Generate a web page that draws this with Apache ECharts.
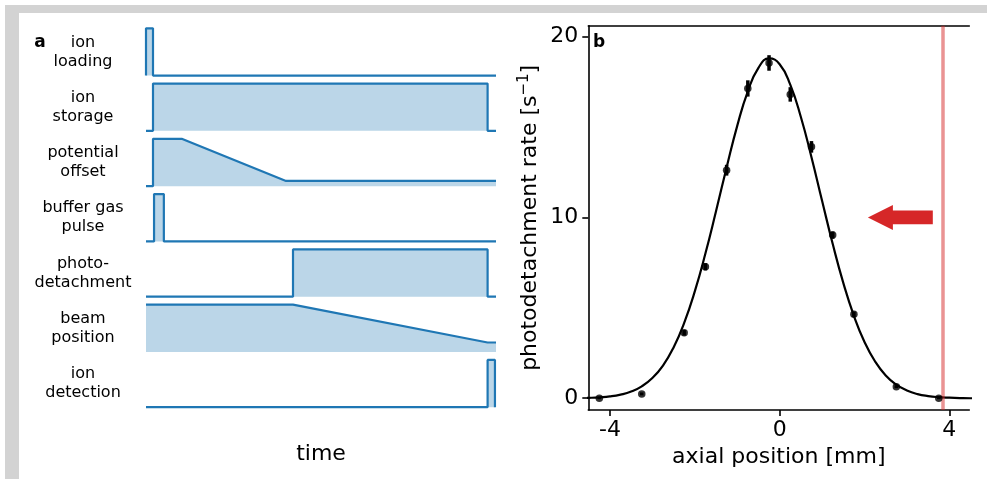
<!DOCTYPE html>
<html>
<head>
<meta charset="utf-8">
<script src="https://cdn.jsdelivr.net/npm/echarts@6/dist/echarts.min.js"></script>
<style>
  html, body { margin: 0; padding: 0; background: #fff; }
  #chart { width: 987px; height: 479px; }
</style>
</head>
<body>
<div id="chart"></div>
<script>
// ---- panel a: timing sequence (time in arbitrary units 0..100, level 0..1) ----
const rowLabels = ['ion\nloading', 'ion\nstorage', 'potential\noffset', 'buffer gas\npulse',
                   'photo-\ndetachment', 'beam\nposition', 'ion\ndetection'];
const ionLoading      = [[0, 0], [0, 1], [2, 1], [2, 0], [100, 0]];
const ionStorage      = [[0, 0], [2, 0], [2, 1], [97.6, 1], [97.6, 0], [100, 0]];
const potentialOffset = [[0, 0], [2, 0], [2, 1], [10.2, 1], [40, 0.11], [100, 0.11]];
const bufferGasPulse  = [[0, 0], [2.3, 0], [2.3, 1], [5.1, 1], [5.1, 0], [100, 0]];
const photoDetachment = [[0, 0], [42, 0], [42, 1], [97.6, 1], [97.6, 0], [100, 0]];
const beamPosition    = [[0, 1], [42, 1], [97.6, 0.2], [100, 0.2]];
const ionDetection    = [[0, 0], [97.6, 0], [97.6, 1], [99.7, 1], [99.7, 0]];
const sequenceRows = [ionLoading, ionStorage, potentialOffset, bufferGasPulse,
                      photoDetachment, beamPosition, ionDetection];

// ---- panel b: photodetachment rate vs axial position ----
const axialPos  = [-4.25, -3.25, -2.25, -1.75, -1.25, -0.75, -0.25, 0.25, 0.75, 1.25, 1.75, 2.75, 3.75];
const rate      = [0.0, 0.24, 3.62, 7.27, 12.61, 17.13, 18.54, 16.8, 13.9, 9.02, 4.64, 0.64, 0.0];
const rateErr   = [0.05, 0.08, 0.15, 0.2, 0.3, 0.45, 0.43, 0.4, 0.32, 0.2, 0.15, 0.08, 0.05];
const fitPos    = [-4.75, -4.5, -4.25, -4, -3.75, -3.5, -3.25, -3, -2.75, -2.5, -2.25, -2, -1.75, -1.5,
                   -1.25, -1, -0.75, -0.5, -0.25, 0, 0.25, 0.5, 0.75, 1, 1.25, 1.5, 1.75, 2, 2.25,
                   2.5, 2.75, 3, 3.25, 3.5, 3.75, 4, 4.25, 4.5, 4.75];
const fitRate   = [0.0, 0.02, 0.05, 0.10, 0.20, 0.37, 0.66, 1.12, 1.81, 2.81, 4.17, 5.91, 8.0, 10.34,
                   12.76, 15.06, 16.97, 18.27, 18.79, 18.47, 17.34, 15.55, 13.33, 10.92, 8.54, 6.38,
                   4.56, 3.11, 2.03, 1.26, 0.75, 0.43, 0.23, 0.12, 0.06, 0.03, 0.01, 0.0, 0.0];
const markerPos = 3.85;                 // red vertical marker [mm]
const arrowSpan = [3.61, 2.08, 10];     // arrow tail x, tip x, height

const xTicks = [-4, 0, 4];
const yTicks = [0, 10, 20];

const FONT = 'DejaVu Sans';
const BLUE = '#1f77b4';

const grids = [], xAxes = [], yAxes = [], series = [], graphics = [];

// timing rows
const rowTop0 = 28.3, rowStep = 55.27, rowH = 47.3, rowLeft = 146, rowW = 350;
sequenceRows.forEach((row, i) => {
  const top = rowTop0 + rowStep * i;
  grids.push({ left: rowLeft, top: top, width: rowW, height: rowH });
  xAxes.push({ type: 'value', gridIndex: i, min: 0, max: 100, show: false });
  yAxes.push({ type: 'value', gridIndex: i, min: 0, max: 1, show: false });
  series.push({
    type: 'line', xAxisIndex: i, yAxisIndex: i, data: row,
    showSymbol: false, clip: false, animation: false,
    lineStyle: { color: BLUE, width: 2.2 },
    areaStyle: { color: BLUE, opacity: 0.3, origin: 'start' }
  });
  graphics.push({
    type: 'text', x: 83, y: top + rowH / 2,
    style: { text: rowLabels[i], font: '16px "' + FONT + '"', fill: '#000',
             align: 'center', verticalAlign: 'middle', lineHeight: 19 }
  });
});

// rate panel
const gi = sequenceRows.length;
grids.push({ left: 588.3, top: 25.7, width: 381, height: 384.3 });
xAxes.push({
  type: 'value', gridIndex: gi, min: -4.51, max: 4.47, position: 'bottom',
  name: 'axial position [mm]', nameLocation: 'middle', nameGap: 33,
  nameTextStyle: { fontFamily: FONT, fontSize: 22, color: '#000' },
  axisLine: { onZero: false, lineStyle: { color: '#000', width: 1.6 } },
  axisTick: { customValues: xTicks, length: 6, lineStyle: { color: '#000', width: 1.6 } },
  axisLabel: { customValues: xTicks, margin: 9, fontFamily: FONT, fontSize: 22, color: '#000' },
  splitLine: { show: false }
});
xAxes.push({
  type: 'value', gridIndex: gi, min: -4.51, max: 4.47, position: 'top',
  axisLine: { onZero: false, lineStyle: { color: '#000', width: 1.6 } },
  axisTick: { show: false }, axisLabel: { show: false }, splitLine: { show: false }
});
yAxes.push({
  type: 'value', gridIndex: gi, min: -0.65, max: 20.6,
  name: '{n|photodetachment rate [s}{s|\u22121}{n|]}', nameLocation: 'middle', nameGap: 44,
  nameTextStyle: {
    fontFamily: FONT, fontSize: 22, color: '#000',
    rich: {
      n: { fontFamily: FONT, fontSize: 22, color: '#000', lineHeight: 28 },
      s: { fontFamily: FONT, fontSize: 15, color: '#000', lineHeight: 15, verticalAlign: 'top' }
    }
  },
  axisLine: { onZero: false, lineStyle: { color: '#000', width: 1.6 } },
  axisTick: { customValues: yTicks, length: 6, lineStyle: { color: '#000', width: 1.6 } },
  axisLabel: { customValues: yTicks, margin: 10, fontFamily: FONT, fontSize: 22, color: '#000' },
  splitLine: { show: false }
});

series.push({
  type: 'line', xAxisIndex: gi, yAxisIndex: gi, animation: false,
  data: fitPos.map((x, k) => [x, fitRate[k]]),
  smooth: true, showSymbol: false, clip: true,
  lineStyle: { color: '#000', width: 2.2 },
  markLine: {
    silent: true, symbol: 'none', animation: false,
    label: { show: false },
    lineStyle: { color: 'rgba(214,39,40,0.5)', width: 3.5, type: 'solid' },
    data: [{ xAxis: markerPos }]
  },
  z: 3
});
series.push({
  type: 'custom', xAxisIndex: gi, yAxisIndex: gi, animation: false,
  data: axialPos.map((x, k) => [x, rate[k], rateErr[k]]),
  renderItem: (params, api) => {
    const x = api.value(0), y = api.value(1), e = api.value(2);
    const p1 = api.coord([x, y - e]), p2 = api.coord([x, y + e]);
    return { type: 'line', shape: { x1: p1[0], y1: p1[1], x2: p2[0], y2: p2[1] },
             style: { stroke: '#000', lineWidth: 3.5 } };
  },
  z: 4
});
series.push({
  type: 'scatter', xAxisIndex: gi, yAxisIndex: gi, animation: false,
  data: axialPos.map((x, k) => [x, rate[k]]),
  symbolSize: 7.5, itemStyle: { color: '#000' }, z: 5
});
series.push({
  type: 'custom', xAxisIndex: gi, yAxisIndex: gi, animation: false,
  data: [arrowSpan],
  renderItem: (params, api) => {
    const tail = api.coord([api.value(0), api.value(2)]);
    const tip = api.coord([api.value(1), api.value(2)]);
    const headLen = 25, headHalf = 12.5, shaftHalf = 6.8;
    const cy = tip[1], hb = tip[0] + headLen;
    return {
      type: 'polygon',
      shape: { points: [[tip[0], cy], [hb, cy - headHalf], [hb, cy - shaftHalf], [tail[0], cy - shaftHalf],
                        [tail[0], cy + shaftHalf], [hb, cy + shaftHalf], [hb, cy + headHalf]] },
      style: { fill: '#d62728' }
    };
  },
  z: 6
});

// frame bands and panel letters
graphics.push({ type: 'rect', shape: { x: 5, y: 5, width: 982, height: 8 }, style: { fill: '#d3d3d3' }, z: -10 });
graphics.push({ type: 'rect', shape: { x: 5, y: 5, width: 14, height: 474 }, style: { fill: '#d3d3d3' }, z: -10 });
graphics.push({ type: 'text', x: 40, y: 43,
  style: { text: 'a', font: 'bold 17px "' + FONT + '"', fill: '#000', align: 'center', verticalAlign: 'middle' } });
graphics.push({ type: 'text', x: 599, y: 43,
  style: { text: 'b', font: 'bold 17px "' + FONT + '"', fill: '#000', align: 'center', verticalAlign: 'middle' } });
graphics.push({ type: 'text', x: 321, y: 454,
  style: { text: 'time', font: '22px "' + FONT + '"', fill: '#000', align: 'center', verticalAlign: 'middle' } });

const chart = echarts.init(document.getElementById('chart'), null, { renderer: 'canvas' });
chart.setOption({
  backgroundColor: '#ffffff',
  animation: false,
  grid: grids,
  xAxis: xAxes,
  yAxis: yAxes,
  series: series,
  graphic: graphics
});
</script>
</body>
</html>
